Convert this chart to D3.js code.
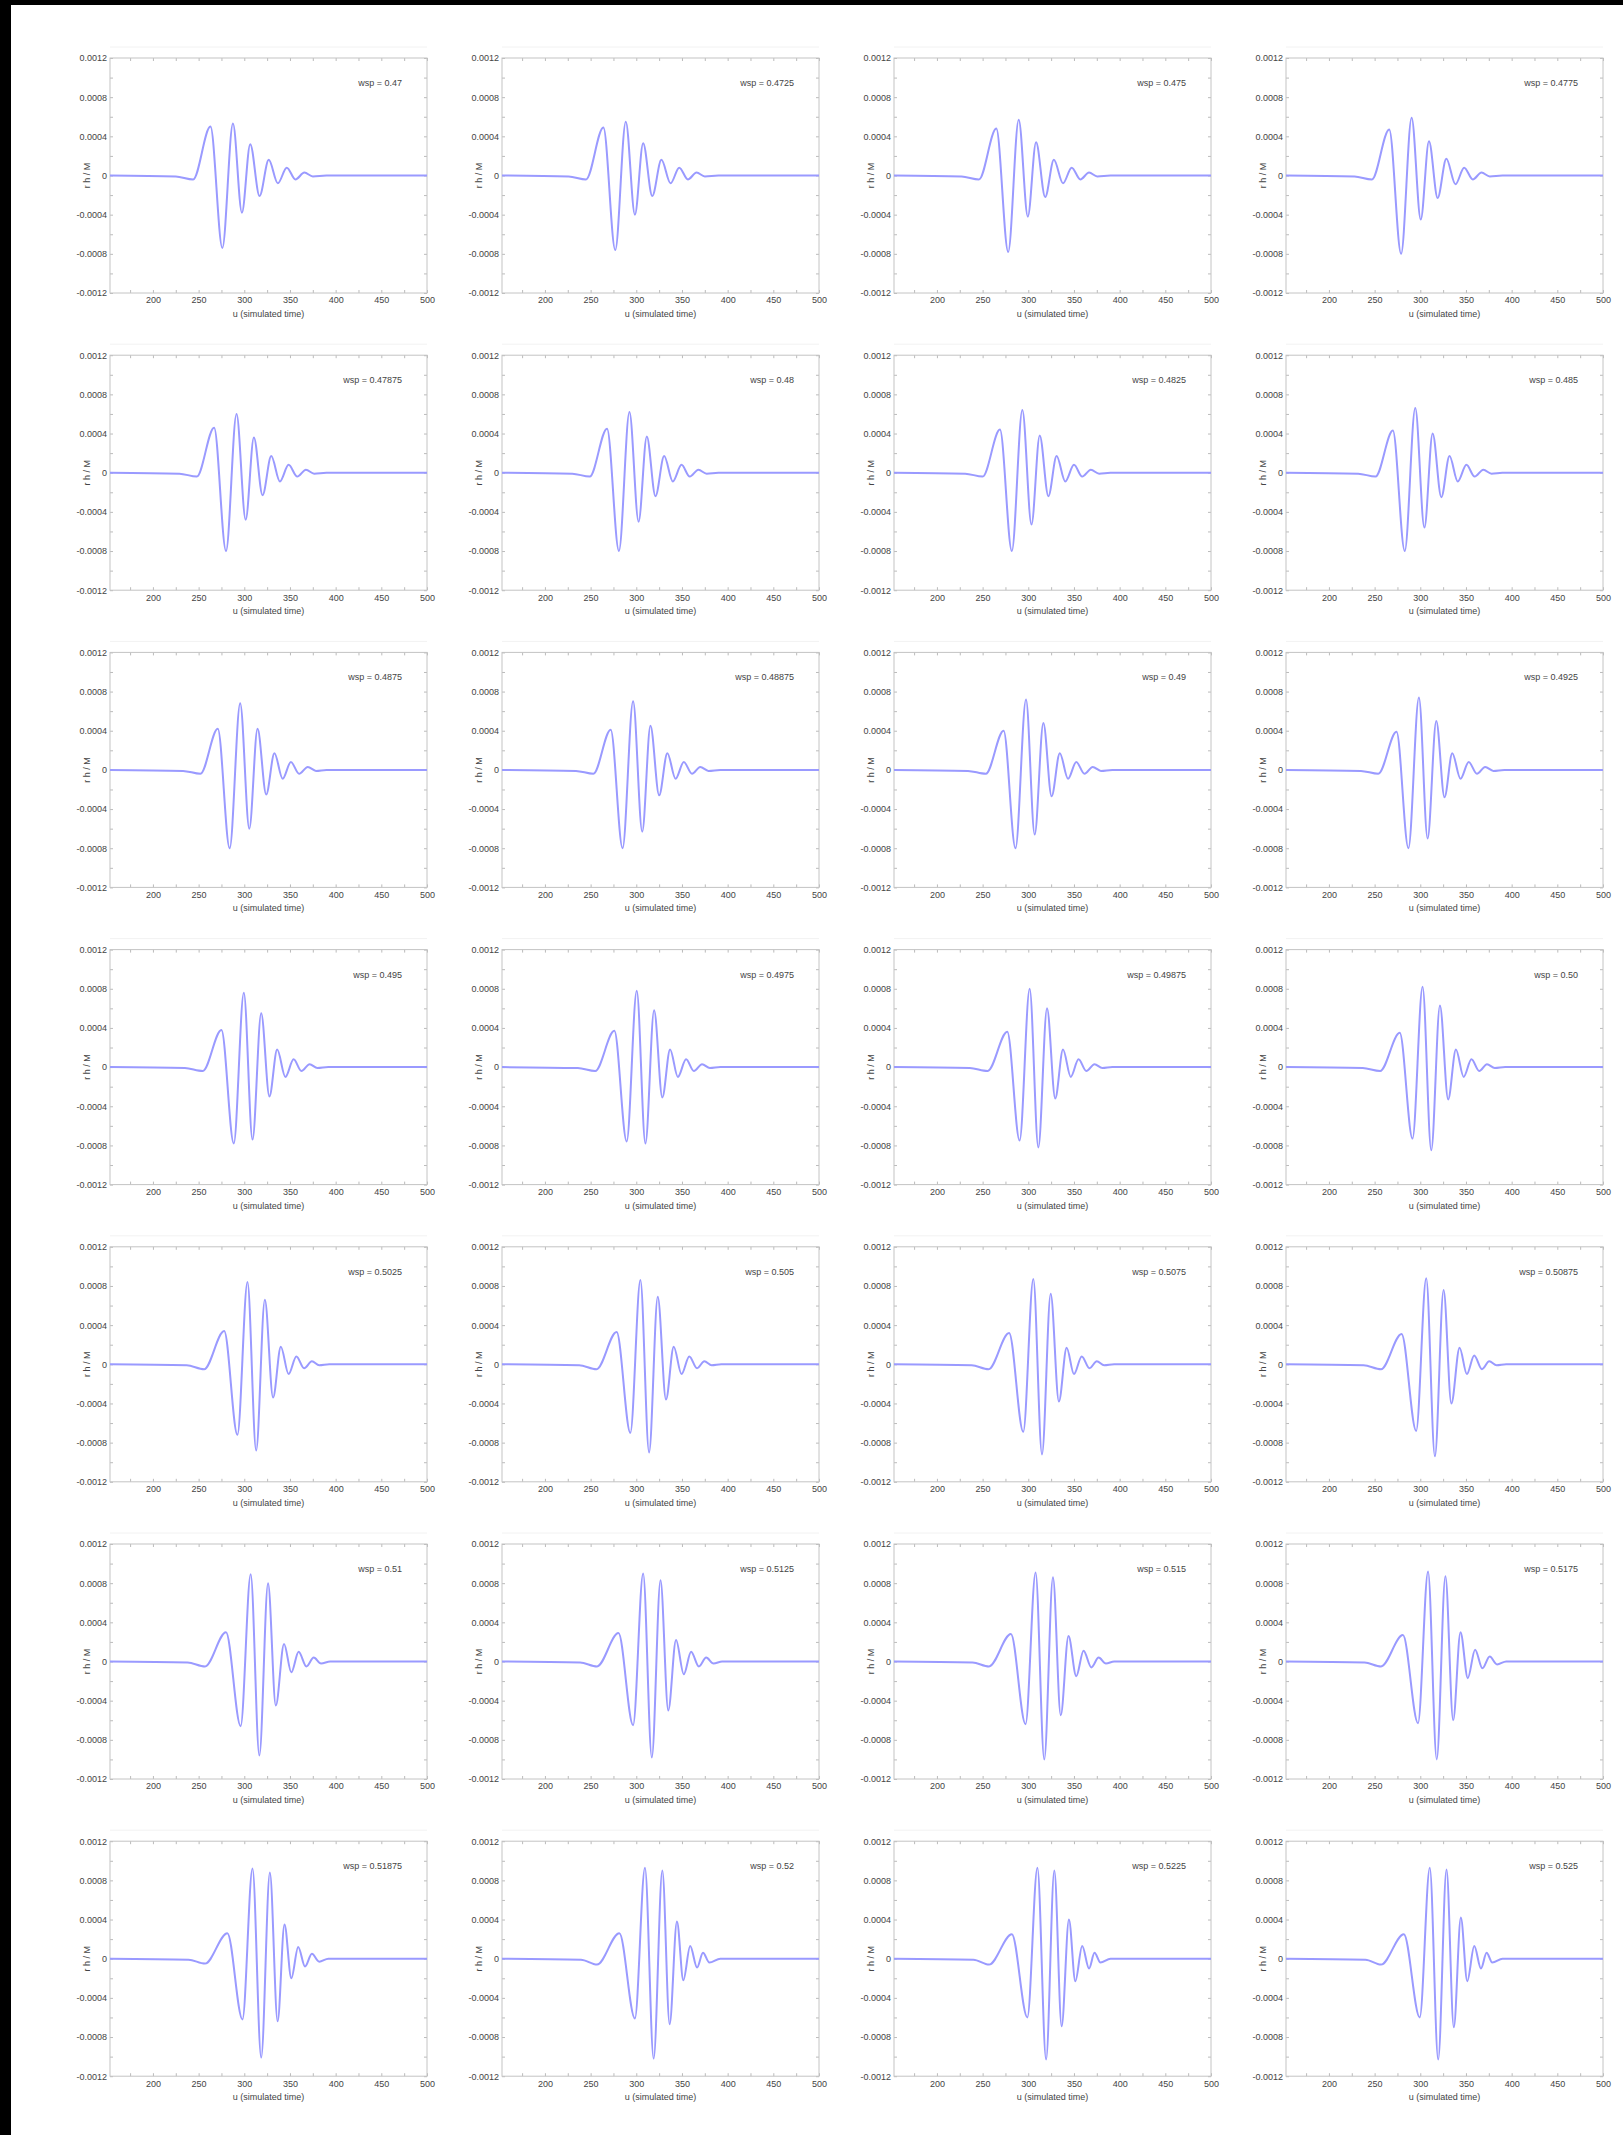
<!DOCTYPE html>
<html><head><meta charset="utf-8">
<script src="https://cdn.jsdelivr.net/npm/d3@7"></script>
<style>
html,body{margin:0;padding:0;background:#fff;}
svg{display:block;}
text{font-family:"Liberation Sans",Arial,sans-serif;}
</style></head><body>
<svg id="chart" width="1623" height="2135"></svg>
<script>
const paramName = "wsp";
const paramValues = ["0.47","0.4725","0.475","0.4775","0.47875","0.48","0.4825","0.485",
  "0.4875","0.48875","0.49","0.4925","0.495","0.4975","0.49875","0.50",
  "0.5025","0.505","0.5075","0.50875","0.51","0.5125","0.515","0.5175",
  "0.51875","0.52","0.5225","0.525"];
const xTicks = [200,250,300,350,400,450,500];
const xTickLabels = ["200","250","300","350","400","450","500"];
const yTicks = [-0.0012,-0.0008,-0.0004,0,0.0004,0.0008,0.0012];
const yTickLabels = ["-0.0012","-0.0008","-0.0004","0","0.0004","0.0008","0.0012"];
const xLabel = "u (simulated time)";
const yLabel = "r h / M";

// waveform extrema [t, h] for each panel
const wave0 = [[153,0],[225,-0.00001],[244,-0.00004],[263,0.0005],[276,-0.00074],[287.6,0.00053],[297.4,-0.00038],[306.5,0.00032],[316.7,-0.00021],[326.8,0.00016],[336.7,-0.00008],[346.5,0.00008],[356,-0.00004],[365.8,0.00003],[375,-0.00001],[390,0],[500,0]];
const wave1 = [[153,0],[226,-0.00001],[245,-0.00004],[264,0.00049],[277,-0.00076],[288.5,0.00055],[298.5,-0.0004],[307.5,0.00033],[317.5,-0.00021],[327.5,0.00016],[337.5,-0.00008],[347,0.00008],[356.5,-0.00004],[366,0.00003],[375,-0.00001],[390,0],[500,0]];
const wave2 = [[153,0],[227,-0.00001],[246,-0.00004],[265,0.00048],[278,-0.00078],[289.5,0.00057],[299.5,-0.00042],[308.5,0.00034],[318.5,-0.00022],[328,0.00016],[338,-0.00008],[347.5,0.00008],[357,-0.00004],[366.5,0.00003],[375.5,-0.00001],[390,0],[500,0]];
const wave3 = [[153,0],[228,-0.00001],[247,-0.00004],[266,0.00047],[279,-0.0008],[290.5,0.00059],[300.5,-0.00045],[309.5,0.00035],[319,-0.00023],[328.5,0.00017],[338.5,-0.00009],[348,0.00008],[357.5,-0.00004],[367,0.00003],[376,-0.00001],[390,0],[500,0]];
const wave4 = [[153,0],[229,-0.00001],[248,-0.00004],[267,0.00046],[280,-0.0008],[291.5,0.0006],[301.5,-0.00048],[310.5,0.00036],[320,-0.00023],[329.5,0.00017],[339,-0.00009],[348.5,0.00008],[358,-0.00004],[367.5,0.00003],[376.5,-0.00001],[390,0],[500,0]];
const wave5 = [[153,0],[230,-0.00001],[249,-0.00004],[268,0.00045],[281,-0.0008],[292.5,0.00062],[302.5,-0.0005],[311.5,0.00037],[321,-0.00024],[330.5,0.00017],[340,-0.00009],[349.5,0.00008],[358.5,-0.00004],[368,0.00003],[377,-0.00001],[390,0],[500,0]];
const wave6 = [[153,0],[231,-0.00001],[250,-0.00004],[269,0.00044],[282,-0.0008],[293.5,0.00064],[303.5,-0.00053],[312.5,0.00038],[322,-0.00024],[331,0.00017],[340.5,-0.00009],[350,0.00008],[359,-0.00004],[368.5,0.00003],[377.5,-0.00001],[390,0],[500,0]];
const wave7 = [[153,0],[232,-0.00001],[251,-0.00004],[270,0.00043],[283,-0.0008],[294.5,0.00066],[304.5,-0.00056],[313.5,0.0004],[323,-0.00025],[332,0.00017],[341,-0.00009],[350.5,0.00008],[359.5,-0.00004],[369,0.00003],[378,-0.00001],[390,0],[500,0]];
const wave8 = [[153,0],[233,-0.00001],[252,-0.00004],[271,0.00042],[284,-0.0008],[295.5,0.00068],[305.5,-0.0006],[314.5,0.00042],[324,-0.00025],[333,0.00017],[342,-0.00009],[351,0.00008],[360,-0.00004],[369.5,0.00003],[378.5,-0.00001],[390,0],[500,0]];
const wave9 = [[153,0],[234,-0.00001],[253,-0.00004],[272,0.00041],[285,-0.0008],[296.5,0.0007],[306.5,-0.00063],[315.5,0.00045],[325,-0.00026],[334,0.00017],[343,-0.00009],[352,0.00008],[361,-0.00004],[370,0.00003],[379,-0.00001],[392,0],[500,0]];
const wave10 = [[153,0],[234,-0.00001],[253.5,-0.00004],[273,0.0004],[286,-0.0008],[297.5,0.00072],[307,-0.00066],[316.5,0.00048],[325.5,-0.00027],[334.5,0.00017],[343.5,-0.00009],[352.5,0.00008],[361.5,-0.00004],[370.5,0.00003],[379.5,-0.00001],[392,0],[500,0]];
const wave11 = [[153,0],[235,-0.00001],[254,-0.00004],[274,0.00039],[287,-0.0008],[298.5,0.00074],[308,-0.0007],[317.5,0.0005],[326.5,-0.00028],[335,0.00017],[344,-0.00009],[353,0.00008],[362,-0.00004],[371,0.00003],[380,-0.00001],[392,0],[500,0]];
const wave12 = [[153,0],[235,-0.00001],[254.5,-0.00004],[275,0.00038],[288.5,-0.00078],[299.5,0.00076],[309,-0.00074],[318.5,0.00055],[327.5,-0.0003],[336,0.00018],[345,-0.0001],[354,0.00008],[362.5,-0.00004],[371.5,0.00003],[380,-0.00001],[392,0],[500,0]];
const wave13 = [[153,0],[236,-0.00001],[255,-0.00004],[276,0.00037],[289.5,-0.00076],[300.5,0.00078],[310,-0.00078],[319.5,0.00058],[328.5,-0.00031],[337,0.00018],[345.5,-0.0001],[354.5,0.00008],[363,-0.00004],[372,0.00003],[380.5,-0.00001],[392,0],[500,0]];
const wave14 = [[153,0],[236,-0.00001],[255.5,-0.00004],[277,0.00036],[290.5,-0.00075],[301.5,0.0008],[311,-0.00082],[320.5,0.0006],[329.5,-0.00032],[338,0.00018],[346.5,-0.0001],[355,0.00008],[363.5,-0.00004],[372.5,0.00003],[381,-0.00001],[392,0],[500,0]];
const wave15 = [[153,0],[237,-0.00001],[256,-0.00004],[277.5,0.00035],[291.5,-0.00073],[302.5,0.00082],[312,-0.00085],[321.5,0.00063],[330.5,-0.00033],[339,0.00018],[347.5,-0.0001],[356,0.00008],[364.5,-0.00004],[373,0.00003],[381.5,-0.00001],[393,0],[500,0]];
const wave16 = [[153,0],[237,-0.00001],[256,-0.00005],[278,0.00034],[292.5,-0.00072],[303.5,0.00084],[313,-0.00088],[322.5,0.00066],[331.5,-0.00034],[340,0.00018],[348.5,-0.0001],[357,0.00008],[365.5,-0.00004],[374,0.00003],[382,-0.00001],[393,0],[500,0]];
const wave17 = [[153,0],[237.5,-0.00001],[256.5,-0.00005],[278.5,0.00033],[293.5,-0.0007],[304.5,0.00086],[314,-0.0009],[323.5,0.00069],[332.5,-0.00036],[341,0.00018],[349.5,-0.0001],[358,0.00008],[366.5,-0.00004],[374.5,0.00003],[382.5,-0.00001],[393,0],[500,0]];
const wave18 = [[153,0],[238,-0.00001],[256.5,-0.00005],[279,0.00032],[294.5,-0.00069],[305.5,0.00087],[315,-0.00092],[324.5,0.00072],[333.5,-0.00038],[342,0.00017],[350,-0.0001],[358.5,0.00008],[367,-0.00004],[375,0.00003],[383,-0.00001],[394,0],[500,0]];
const wave19 = [[153,0],[238,-0.00001],[257,-0.00005],[279.5,0.00031],[295.5,-0.00068],[306.5,0.00088],[316,-0.00094],[325.5,0.00076],[334,-0.0004],[343,0.00017],[351,-0.0001],[359,0.00009],[367.5,-0.00005],[375.5,0.00003],[383.5,-0.00001],[394,0],[500,0]];
const wave20 = [[153,0],[238,-0.00001],[257,-0.00005],[280,0.0003],[296,-0.00066],[307,0.00089],[316.5,-0.00096],[326,0.0008],[334.5,-0.00045],[343.5,0.00018],[351.5,-0.00011],[359.5,0.0001],[368,-0.00005],[376,0.00004],[384,-0.00002],[394,0],[500,0]];
const wave21 = [[153,0],[238.5,-0.00001],[257,-0.00005],[280.5,0.00029],[296.5,-0.00065],[307.5,0.0009],[317,-0.00098],[326.5,0.00083],[335,-0.0005],[343.5,0.00022],[352,-0.00013],[360,0.0001],[368.5,-0.00005],[376.5,0.00004],[384.5,-0.00002],[394,0],[500,0]];
const wave22 = [[153,0],[239,-0.00001],[257,-0.00005],[281,0.00028],[297,-0.00064],[308,0.00091],[317.5,-0.001],[327,0.00086],[335.5,-0.00055],[344,0.00026],[352.5,-0.00015],[360.5,0.00011],[369,-0.00006],[377,0.00004],[385,-0.00002],[394,0],[500,0]];
const wave23 = [[153,0],[239,-0.00001],[257,-0.00005],[281,0.00027],[297.5,-0.00063],[308.5,0.00092],[318,-0.001],[327.5,0.00087],[336,-0.0006],[344,0.0003],[352,-0.00017],[360,0.00012],[368,-0.00007],[376,0.00005],[384,-0.00003],[394,0],[500,0]];
const wave24 = [[153,0],[239,-0.00001],[257,-0.00005],[281.5,0.00026],[298,-0.00062],[309,0.00092],[318.5,-0.00101],[328,0.00088],[336.5,-0.00064],[344,0.00035],[351.5,-0.0002],[359,0.00012],[366.5,-0.00008],[374,0.00005],[382,-0.00003],[392,0],[500,0]];
const wave25 = [[153,0],[239.5,-0.00001],[257,-0.00006],[281.5,0.00026],[298.5,-0.00061],[309.5,0.00093],[319,-0.00102],[328.5,0.0009],[336.5,-0.00067],[344.5,0.00038],[351.5,-0.00022],[359,0.00013],[366.5,-0.00009],[373,0.00006],[380,-0.00004],[392,0],[500,0]];
const wave26 = [[153,0],[240,-0.00001],[257,-0.00006],[282,0.00025],[299,-0.0006],[310,0.00093],[319.5,-0.00103],[328.5,0.0009],[336.5,-0.00069],[344.5,0.0004],[351.5,-0.00023],[359,0.00013],[366.5,-0.0001],[372.5,0.00006],[379,-0.00004],[390,0],[500,0]];
const wave27 = [[153,0],[240,-0.00001],[257,-0.00006],[282,0.00025],[299.4,-0.0006],[310.4,0.00093],[319.6,-0.00103],[328.7,0.00091],[336.7,-0.0007],[344.4,0.00042],[351.4,-0.00023],[359.1,0.00013],[366.4,-0.0001],[372.6,0.00006],[378.8,-0.00004],[390,0],[500,0]];
const waves = [wave0,wave1,wave2,wave3,wave4,wave5,wave6,wave7,wave8,wave9,wave10,wave11,wave12,wave13,
  wave14,wave15,wave16,wave17,wave18,wave19,wave20,wave21,wave22,wave23,wave24,wave25,wave26,wave27];

const svg = d3.select("#chart");
svg.append("rect").attr("x",0).attr("y",0).attr("width",1623).attr("height",2135).attr("fill","#fff");
svg.append("rect").attr("x",0).attr("y",0).attr("width",11).attr("height",2135).attr("fill","#000");
svg.append("rect").attr("x",0).attr("y",0).attr("width",1623).attr("height",5).attr("fill","#000");

const colLeft = [110,502,894,1286];
const plotW = 317, plotH = 235, rowTop0 = 58, rowStep = 297.2;
const x = d3.scaleLinear().domain([153,500]).range([0,plotW]);
const y = d3.scaleLinear().domain([-0.0012,0.0012]).range([plotH,0]);
const xMinor = d3.range(175,501,25);
const yMinor = d3.range(-12,13,2).map(v=>v*0.0001);
const line = d3.line().x(d=>x(d[0])).y(d=>y(d[1])).curve(d3.curveMonotoneX);

waves.forEach((w,i)=>{
  const r = Math.floor(i/4), c = i%4;
  const g = svg.append("g").attr("transform",`translate(${colLeft[c]},${rowTop0 + r*rowStep})`);
  g.append("line").attr("x1",0).attr("x2",plotW).attr("y1",-11).attr("y2",-11).attr("stroke","#f2f2f2");
  const tickStyle = sel=>{sel.select(".domain").remove(); sel.selectAll("line").attr("stroke","#bbb");};
  g.append("g").attr("transform",`translate(0,${plotH})`).call(d3.axisBottom(x).tickValues(xMinor).tickSize(-3).tickFormat("")).call(tickStyle);
  g.append("g").call(d3.axisTop(x).tickValues(xMinor).tickSize(-3).tickFormat("")).call(tickStyle);
  g.append("g").call(d3.axisLeft(y).tickValues(yMinor).tickSize(-3).tickFormat("")).call(tickStyle);
  g.append("g").attr("transform",`translate(${plotW},0)`).call(d3.axisRight(y).tickValues(yMinor).tickSize(-3).tickFormat("")).call(tickStyle);
  g.append("rect").attr("width",plotW).attr("height",plotH).attr("fill","none").attr("stroke","#c4c4c4");
  const lab = sel=>{sel.select(".domain").remove(); sel.selectAll("line").remove(); sel.selectAll("text").attr("fill","#444").style("font-size","9px").style("font-family","Liberation Sans, Arial, sans-serif");};
  g.append("g").attr("transform",`translate(0,${plotH})`).call(d3.axisBottom(x).tickValues(xTicks).tickSize(0).tickPadding(4).tickFormat((d,k)=>xTickLabels[k])).call(lab);
  g.append("g").call(d3.axisLeft(y).tickValues(yTicks).tickSize(0).tickPadding(3).tickFormat((d,k)=>yTickLabels[k])).call(lab);
  g.append("text").attr("x",plotW/2).attr("y",plotH+24).attr("text-anchor","middle").attr("fill","#444").style("font-size","9px").text(xLabel);
  g.append("text").attr("transform",`translate(-20,${y(0)}) rotate(-90)`).attr("text-anchor","middle").attr("fill","#444").style("font-size","9px").text(yLabel);
  g.append("text").attr("x",plotW-25).attr("y",28).attr("text-anchor","end").attr("fill","#444").style("font-size","9px").text(`${paramName} = ${paramValues[i]}`);
  g.append("path").datum(w).attr("d",line).attr("fill","none").attr("stroke","#9a9aff").attr("stroke-width",2);
});
</script>
</body></html>
